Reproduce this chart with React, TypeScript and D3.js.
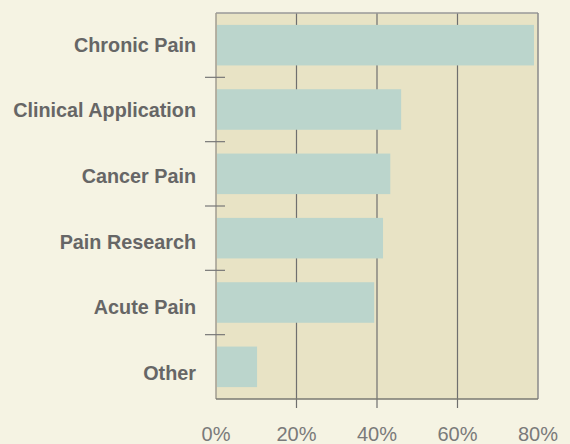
import React from "react";
import * as d3 from "d3";

const categories = ["Chronic Pain", "Clinical Application", "Cancer Pain", "Pain Research", "Acute Pain", "Other"];
const values = [79.0, 46.0, 43.3, 41.5, 39.3, 10.2];
const xTicks = [0, 20, 40, 60, 80];

const W = 570;
const H = 444;
const M = { left: 216, right: 32, top: 13, bottom: 45 };

export default function App() {
  const x = d3.scaleLinear().domain([0, 80]).range([M.left, W - M.right]);
  const y = d3
    .scaleBand<string>()
    .domain(categories)
    .range([M.top, H - M.bottom])
    .paddingInner(0.37)
    .paddingOuter(0.185);
  const boundaries = categories.slice(1).map((c, i) => M.top + (i + 1) * ((H - M.bottom - M.top) / categories.length));
  // labels are spaced slightly wider than the bands in the reference
  const labelY = d3.scalePoint<string>().domain(categories).range([44.8, 372.8]);

  return (
    <svg width={W} height={H} style={{ position: "absolute", left: 0, top: 0, background: "#f5f3e3" }}>
      <rect x={0} y={0} width={W} height={H} fill="#f5f3e3" />
      <rect x={M.left} y={M.top} width={x(80) - M.left} height={H - M.bottom - M.top} fill="#e8e3c5" />
      {xTicks.slice(1, -1).map((t) => (
        <line key={"g" + t} x1={x(t)} x2={x(t)} y1={M.top} y2={H - M.bottom + 9} stroke="#6f6f6f" strokeWidth={1.2} />
      ))}
      {categories.map((c, i) => (
        <rect key={c} x={x(0) + 1} y={y(c)} width={x(values[i]) - x(0) - 1} height={y.bandwidth()} fill="#bbd5cc" />
      ))}
      <line x1={M.left} x2={x(80)} y1={M.top} y2={M.top} stroke="#999" strokeWidth={1.5} />
      <line x1={x(80)} x2={x(80)} y1={M.top} y2={H - M.bottom} stroke="#8a8a8a" strokeWidth={1.5} />
      <line x1={M.left} x2={M.left} y1={M.top} y2={H - M.bottom} stroke="#a09c90" strokeWidth={1.5} />
      <line x1={M.left} x2={x(80)} y1={H - M.bottom} y2={H - M.bottom} stroke="#7a7a72" strokeWidth={1.5} />
      {boundaries.map((b, i) => (
        <line key={"t" + i} x1={205} x2={225} y1={b} y2={b} stroke="#777" strokeWidth={1.2} />
      ))}
      {categories.map((c) => (
        <text
          key={"l" + c}
          x={196}
          y={labelY(c) as number}
          dy="0.35em"
          textAnchor="end"
          fontFamily="'Liberation Sans', Arial, sans-serif"
          fontWeight="bold"
          fontSize={19.8}
          fill="#666"
        >
          {c}
        </text>
      ))}
      {xTicks.map((t) => (
        <text
          key={"x" + t}
          x={x(t)}
          y={441}
          textAnchor="middle"
          fontFamily="'Liberation Sans', Arial, sans-serif"
          fontSize={20}
          fill="#7a7a7a"
        >
          {t}%
        </text>
      ))}
    </svg>
  );
}
